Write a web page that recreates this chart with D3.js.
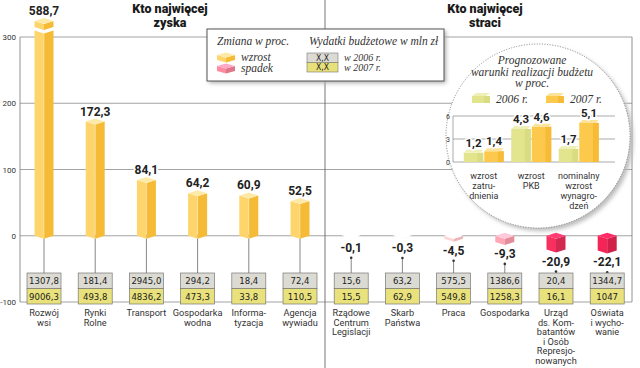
<!DOCTYPE html>
<html>
<head>
<meta charset="utf-8">
<script src="https://cdn.jsdelivr.net/npm/d3@7"></script>
<style>
  body { margin: 0; background: #fff; }
  svg { display: block; }
</style>
</head>
<body>
<svg id="chart" width="640" height="368"></svg>
<script>
// --- data ---
const categories = ["Rozwój wsi", "Rynki Rolne", "Transport", "Gospodarka wodna", "Informatyzacja", "Agencja wywiadu",
  "Rządowe Centrum Legislacji", "Skarb Państwa", "Praca", "Gospodarka", "Urząd ds. Kombatantów i Osób Represjonowanych", "Oświata i wychowanie"];
const categoryLines = [["Rozwój", "wsi"], ["Rynki", "Rolne"], ["Transport"], ["Gospodarka", "wodna"], ["Informa-", "tyzacja"], ["Agencja", "wywiadu"],
  ["Rządowe", "Centrum", "Legislacji"], ["Skarb", "Państwa"], ["Praca"], ["Gospodarka"], ["Urząd", "ds. Kom-", "batantów", "i Osób", "Represjo-", "nowanych"], ["Oświata", "i wycho-", "wanie"]];
const change = [588.7, 172.3, 84.1, 64.2, 60.9, 52.5, -0.1, -0.3, -4.5, -9.3, -20.9, -22.1];
const spend2006 = ["1307,8", "181,4", "2945,0", "294,2", "18,4", "72,4", "15,6", "63,2", "575,5", "1386,6", "20,4", "1344,7"];
const spend2007 = ["9006,3", "493,8", "4836,2", "473,3", "33,8", "110,5", "15,5", "62,9", "549,8", "1258,3", "16,1", "1047"];
const yTicks = [300, 200, 100, 0, -100];

const forecastGroups = ["zatrudnienie", "PKB", "wynagrodzenia"];
const forecastLines = [["wzrost", "zatru-", "dnienia"], ["wzrost", "PKB"], ["nominalny", "wzrost", "wynagro-", "dzeń"]];
const forecastYears = ["2006 r.", "2007 r."];
const forecast2006 = [1.2, 4.3, 1.7];
const forecast2007 = [1.4, 4.6, 5.1];
const forecastTicks = [0, 3, 6];

// --- setup ---
const svg = d3.select("#chart");
const fmt = v => d3.format(".1f")(v).replace(".", ",").replace("−", "-");
const numFont = "Roboto, 'DejaVu Sans', sans-serif";
const serif = "'Liberation Serif', 'DejaVu Serif', serif";
const narrow = "'DejaVu Sans Condensed', 'Liberation Sans Narrow', 'Roboto', sans-serif";

const x = d3.scaleBand().domain(categories).range([18.4, 632.8]);
const y = d3.scaleLinear().domain([-100, 300]).range([302, 37]);
const red = d3.scaleLinear().domain([0, 22]).range(["#f1ddd4", "#d0204a"]);

const defs = svg.append("defs");
const blur = defs.append("filter").attr("id", "shadow").attr("x", "-20%").attr("y", "-20%").attr("width", "140%").attr("height", "140%");
blur.append("feGaussianBlur").attr("stdDeviation", 2);

// 3D prism: left face, right face, top diamond
function prism(g, cx, w, top, base, cols, d, withTop) {
  const l = cx - w / 2, r = cx + w / 2;
  g.append("polygon").attr("fill", cols.left)
    .attr("points", [[l, top], [cx, top + d], [cx, base + d], [l, base]].join(" "));
  g.append("polygon").attr("fill", cols.right)
    .attr("points", [[cx, top + d], [r, top], [r, base], [cx, base + d]].join(" "));
  if (withTop !== false) {
    g.append("polygon").attr("fill", cols.top)
      .attr("points", [[l, top], [cx, top - d], [r, top], [cx, top + d]].join(" "));
  }
}
const posCols = { left: "#fdd56c", right: "#f6bb36", top: "#feeaa8" };
function negCols(v) {
  const c = d3.color(red(Math.abs(v)));
  return { left: c.brighter(0.45).formatHex(), right: c.formatHex(), top: c.brighter(1.0).formatHex() };
}

// --- grid & frame ---
svg.append("g").selectAll("line").data(yTicks).join("line")
  .attr("x1", 20).attr("x2", 632).attr("y1", d => y(d)).attr("y2", d => y(d))
  .attr("stroke", "#8c8c8c").attr("stroke-width", 0.8);
svg.append("g").selectAll("text").data(yTicks).join("text")
  .attr("x", 16).attr("y", d => y(d) + 3).attr("text-anchor", "end")
  .attr("font-family", numFont).attr("font-size", 8).attr("fill", "#333")
  .text(d => d);
svg.append("line").attr("x1", 20).attr("x2", 20).attr("y1", y(300)).attr("y2", y(-100)).attr("stroke", "#777").attr("stroke-width", 0.8);
svg.append("line").attr("x1", 632).attr("x2", 632).attr("y1", y(300)).attr("y2", y(-100)).attr("stroke", "#777").attr("stroke-width", 0.8);
svg.append("line").attr("x1", 325).attr("x2", 325).attr("y1", 0).attr("y2", 368).attr("stroke", "#666").attr("stroke-width", 0.9);

// --- titles ---
[[170, ["Kto najwięcej", "zyska"]], [485, ["Kto najwięcej", "straci"]]].forEach(([cx, lines]) => {
  svg.append("text").attr("x", cx).attr("y", 13).attr("text-anchor", "middle")
    .attr("font-family", numFont).attr("font-weight", 900).attr("font-size", 12.5).attr("fill", "#1a1a1a")
    .selectAll("tspan").data(lines).join("tspan")
    .attr("x", cx).attr("dy", (d, i) => i ? 14 : 0).text(d => d);
});

// --- inset: forecast ---
const ic = { x: 538, y: 136, r: 92 };
svg.append("circle").attr("cx", ic.x + 3).attr("cy", ic.y + 3).attr("r", ic.r).attr("fill", "#bbb").attr("filter", "url(#shadow)");
svg.append("circle").attr("cx", ic.x).attr("cy", ic.y).attr("r", ic.r).attr("fill", "#fff")
  .attr("stroke", "#888").attr("stroke-width", 1).attr("stroke-dasharray", "1,1.6");

const inset = svg.append("g");
inset.append("text").attr("x", 532).attr("y", 64).attr("text-anchor", "middle")
  .attr("font-family", serif).attr("font-style", "italic").attr("font-size", 11.5).attr("fill", "#333")
  .selectAll("tspan").data(["Prognozowane", "warunki realizacji budżetu", "w proc."]).join("tspan")
  .attr("x", 532).attr("dy", (d, i) => i ? 11.5 : 0).text(d => d);

const fy = d3.scaleLinear().domain([0, 6]).range([162, 116]);
const fx = d3.scaleBand().domain(forecastGroups).range([460, 602.5]);
const fsub = d3.scaleBand().domain(forecastYears).range([-20, 20]).paddingInner(0.05);
const yearCols = [
  { left: "#e2e48e", right: "#d9dc80", top: "#eef0b8" },
  { left: "#fcc94c", right: "#f6bc38", top: "#fde39a" }
];

// inset legend
[[472, forecastYears[0], yearCols[0]], [546, forecastYears[1], yearCols[1]]].forEach(([lx, label, cols]) => {
  inset.append("rect").attr("x", lx).attr("y", 96).attr("width", 18).attr("height", 7).attr("fill", cols.left);
  inset.append("polygon").attr("points", [[lx, 96], [lx + 4, 93], [lx + 18, 93], [lx + 14, 96]].join(" ")).attr("fill", cols.top);
  inset.append("rect").attr("x", lx + 12).attr("y", 96).attr("width", 6).attr("height", 7).attr("fill", cols.right);
  inset.append("text").attr("x", lx + 24).attr("y", 103)
    .attr("font-family", serif).attr("font-style", "italic").attr("font-size", 11.5).attr("fill", "#333").text(label);
});

inset.selectAll("line.fgrid").data(forecastTicks).join("line").attr("class", "fgrid")
  .attr("x1", 453).attr("x2", 615).attr("y1", d => fy(d)).attr("y2", d => fy(d))
  .attr("stroke", "#888").attr("stroke-width", 0.7);
inset.append("line").attr("x1", 453).attr("x2", 453).attr("y1", fy(6)).attr("y2", fy(0)).attr("stroke", "#888").attr("stroke-width", 0.7);
inset.selectAll("text.ftick").data(forecastTicks).join("text").attr("class", "ftick")
  .attr("x", 450).attr("y", d => fy(d) + 2.5).attr("text-anchor", "end")
  .attr("font-family", numFont).attr("font-size", 7).attr("fill", "#333").text(d => d);

forecastGroups.forEach((grp, i) => {
  const cx0 = fx(grp) + fx.bandwidth() / 2;
  [forecast2006[i], forecast2007[i]].forEach((v, j) => {
    const bx = cx0 + fsub(forecastYears[j]);
    const bw = fsub.bandwidth();
    const cols = yearCols[j];
    const top = fy(v);
    inset.append("rect").attr("x", bx).attr("y", top).attr("width", bw).attr("height", fy(0) - top).attr("fill", cols.left);
    inset.append("rect").attr("x", bx + bw * 0.7).attr("y", top).attr("width", bw * 0.3).attr("height", fy(0) - top).attr("fill", cols.right);
    inset.append("polygon").attr("points", [[bx, top], [bx + 3, top - 3], [bx + bw, top - 3], [bx + bw - 3, top]].join(" ")).attr("fill", cols.top);
    inset.append("text").attr("x", bx + bw / 2).attr("y", top - 6).attr("text-anchor", "middle")
      .attr("font-family", numFont).attr("font-weight", 700).attr("font-size", 11.5).attr("fill", "#222")
      .attr("stroke", "#fff").attr("stroke-width", 3).attr("paint-order", "stroke")
      .text(fmt(v));
  });
  inset.append("text").attr("x", cx0).attr("y", 179).attr("text-anchor", "middle")
    .attr("font-family", numFont).attr("font-size", 9).attr("fill", "#333")
    .selectAll("tspan").data(forecastLines[i]).join("tspan")
    .attr("x", cx0).attr("dy", (d, k) => k ? 10 : 0).text(d => d);
});

// --- legend box ---
const lg = svg.append("g");
lg.append("rect").attr("x", 209).attr("y", 31).attr("width", 237).attr("height", 52).attr("fill", "#aaa").attr("filter", "url(#shadow)");
lg.append("rect").attr("x", 207).attr("y", 29).attr("width", 237).attr("height", 52).attr("fill", "#fff").attr("stroke", "#555").attr("stroke-width", 1);
const legText = (tx, ty, t, fs) => lg.append("text").attr("x", tx).attr("y", ty)
  .attr("font-family", serif).attr("font-style", "italic").attr("font-size", fs || 11.5).attr("fill", "#333").text(t);
legText(217, 45, "Zmiana w proc.");
legText(309, 45, "Wydatki budżetowe w mln zł");
prism(lg, 226, 18, 55, 60, posCols, 2.5);
prism(lg, 226, 18, 66, 71, negCols(12), 2.5);
legText(241, 61, "wzrost");
legText(241, 72, "spadek");
lg.append("rect").attr("x", 307).attr("y", 53).attr("width", 31).attr("height", 9.5).attr("fill", "#dcdbd3").attr("stroke", "#777").attr("stroke-width", 0.6);
lg.append("rect").attr("x", 307).attr("y", 62.5).attr("width", 31).attr("height", 9.5).attr("fill", "#e8e07a").attr("stroke", "#777").attr("stroke-width", 0.6);
lg.append("text").attr("x", 322.5).attr("y", 60.5).attr("text-anchor", "middle").attr("font-family", narrow).attr("font-size", 8.5).attr("fill", "#222").text("X,X");
lg.append("text").attr("x", 322.5).attr("y", 70).attr("text-anchor", "middle").attr("font-family", narrow).attr("font-size", 8.5).attr("fill", "#222").text("X,X");
legText(344, 60.5, "w 2006 r.", 10);
legText(344, 70.5, "w 2007 r.", 10);

// --- main bars ---
const barW = 19, depth = 3;
const clipY = y(300) - 8;           // tall bar is cut here
const boxTop = 273, boxH = 15.5, boxW = 34;

const items = categories.map((c, i) => ({ c, i, v: change[i], cx: x(c) + x.bandwidth() / 2 }));

// leader lines and data boxes
items.forEach(d => {
  const y0 = y(0);
  const startY = d.v >= 0 ? y0 : y(d.v) + depth + 19;
  svg.append("line").attr("x1", d.cx).attr("x2", d.cx).attr("y1", startY).attr("y2", boxTop)
    .attr("stroke", "#555").attr("stroke-width", 0.7);
  svg.append("circle").attr("cx", d.cx).attr("cy", startY).attr("r", 1.3).attr("fill", "#333");
  svg.append("rect").attr("x", d.cx - boxW / 2).attr("y", boxTop).attr("width", boxW).attr("height", boxH)
    .attr("fill", "#dcdbd3").attr("stroke", "#777").attr("stroke-width", 0.7);
  svg.append("rect").attr("x", d.cx - boxW / 2).attr("y", boxTop + boxH).attr("width", boxW).attr("height", boxH)
    .attr("fill", "#e9e27c").attr("stroke", "#777").attr("stroke-width", 0.7);
  svg.append("text").attr("x", d.cx).attr("y", boxTop + 11.3).attr("text-anchor", "middle")
    .attr("font-family", narrow).attr("font-size", 9.5).attr("fill", "#222").text(spend2006[d.i]);
  svg.append("text").attr("x", d.cx).attr("y", boxTop + boxH + 11.3).attr("text-anchor", "middle")
    .attr("font-family", narrow).attr("font-size", 9.5).attr("fill", "#222").text(spend2007[d.i]);
});

const bars = svg.append("g");
items.forEach(d => {
  const g = bars.append("g");
  if (d.v >= 0) {
    const top = y(d.v);
    if (top < clipY) {
      prism(g, d.cx, barW, clipY + 1.5, y(0), posCols, depth, false);
      prism(g, d.cx, barW, clipY - 8, clipY - 2, posCols, depth);
      d.labelY = clipY - 8 - 6;
    } else {
      prism(g, d.cx, barW, top, y(0), posCols, depth);
      d.labelY = top - 6;
    }
    g.append("line").attr("x1", d.cx).attr("x2", d.cx).attr("y1", Math.max(top, clipY + 1.5) + depth).attr("y2", y(0) + depth)
      .attr("stroke", "#fff").attr("stroke-opacity", 0.5).attr("stroke-width", 0.7);
  } else {
    prism(g, d.cx, barW, y(0), y(d.v), negCols(d.v), depth);
    d.labelY = y(d.v) + depth + 13;
  }
});

svg.append("g").selectAll("text").data(items).join("text")
  .attr("x", d => d.cx).attr("y", d => d.labelY).attr("text-anchor", "middle")
  .attr("font-family", numFont).attr("font-weight", 700).attr("font-size", 12).attr("fill", "#222")
  .attr("stroke", "#fff").attr("stroke-width", 4).attr("paint-order", "stroke")
  .text(d => fmt(d.v));

// category labels
svg.append("g").selectAll("text").data(items).join("text")
  .attr("x", d => d.cx).attr("y", 316).attr("text-anchor", "middle")
  .attr("font-family", numFont).attr("font-size", 9.2).attr("fill", "#333")
  .each(function (d) {
    d3.select(this).selectAll("tspan").data(categoryLines[d.i]).join("tspan")
      .attr("x", d.cx).attr("dy", (t, k) => k ? 9.6 : 0).text(t => t);
  });
</script>
</body>
</html>
